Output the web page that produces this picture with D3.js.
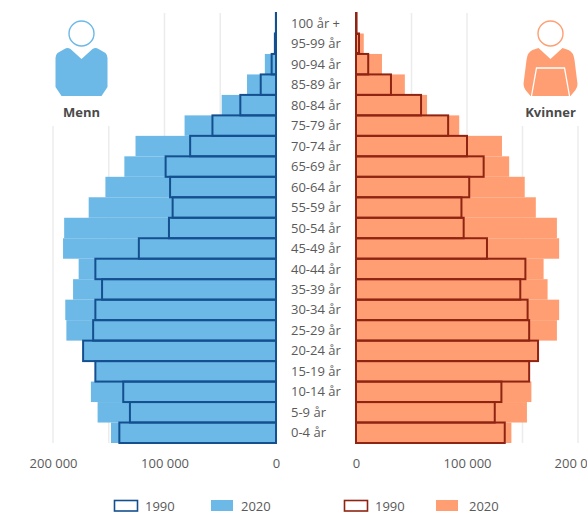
<!DOCTYPE html>
<html>
<head>
<meta charset="utf-8">
<script src="https://cdn.jsdelivr.net/npm/d3@7"></script>
<style>
  html, body { margin: 0; padding: 0; background: #fff; overflow: hidden; }
  svg { display: block; }
  text { font-family: "Open Sans", sans-serif; }
</style>
</head>
<body>
<svg id="chart" width="587" height="516"></svg>
<script>
// Norwegian population by five-year age group, 1990 and 2020 (top row = oldest)
const ageGroups = ["100 år +", "95-99 år", "90-94 år", "85-89 år", "80-84 år", "75-79 år", "70-74 år",
  "65-69 år", "60-64 år", "55-59 år", "50-54 år", "45-49 år", "40-44 år", "35-39 år", "30-34 år",
  "25-29 år", "20-24 år", "15-19 år", "10-14 år", "5-9 år", "0-4 år"];
const men1990 = [100, 1000, 3900, 13700, 32000, 57000, 77000, 99000, 95000, 92700, 96000, 123000,
  162000, 156000, 162000, 164000, 173000, 162000, 137000, 131000, 140500];
const men2020 = [300, 1500, 10000, 26000, 48700, 82000, 126000, 136000, 153000, 168000, 190000, 191000,
  177000, 182000, 189000, 188000, 173000, 162000, 166000, 160000, 148000];
const women1990 = [500, 2700, 11000, 31500, 58600, 83000, 100000, 115000, 102000, 95000, 97000, 118000,
  152600, 148000, 154600, 156000, 164000, 156000, 131000, 125000, 134000];
const women2020 = [500, 7000, 23400, 44000, 64000, 93000, 131500, 138000, 152000, 162000, 181000, 183000,
  169000, 172600, 183000, 181000, 164000, 156000, 158000, 154000, 140000];
const axisTicks = [0, 100000, 200000];
const gridTicks = [50000, 100000, 150000, 200000];
const legendYears = ["1990", "2020"];

const palette = {
  men: { line: "#14508f", fill: "#6cb9e7" },
  women: { line: "#8f2412", fill: "#ff9e72" },
  grid: "#ececec",
  text: "#5a5a5a"
};

const svg = d3.select("#chart");
const y = d3.scaleBand().domain(ageGroups).range([13, 443]).padding(0);
const xMen = d3.scaleLinear().domain([0, 200000]).range([276, 53]);
const xWomen = d3.scaleLinear().domain([0, 200000]).range([356, 578]);
const spaced = d => d3.format(",")(d).replace(/,/g, " ");

function drawSide(x, before, after, colors) {
  const g = svg.append("g");
  g.selectAll("line.grid").data(gridTicks).join("line")
    .attr("class", "grid")
    .attr("x1", d => x(d)).attr("x2", d => x(d))
    .attr("y1", 13).attr("y2", 443)
    .attr("stroke", palette.grid).attr("stroke-width", 1.5);

  const span = (d, zero) => ({ x: Math.min(x(d), zero), w: Math.abs(x(d) - zero) });
  const zero = x(0);

  g.selectAll("rect.now").data(after).join("rect")
    .attr("class", "now")
    .attr("x", d => span(d, zero).x).attr("width", d => span(d, zero).w)
    .attr("y", (d, i) => y(ageGroups[i])).attr("height", y.bandwidth())
    .attr("fill", colors.fill);

  g.selectAll("rect.then").data(before).join("rect")
    .attr("class", "then")
    .attr("x", d => span(d, zero).x).attr("width", d => span(d, zero).w)
    .attr("y", (d, i) => y(ageGroups[i])).attr("height", y.bandwidth())
    .attr("fill", "none")
    .attr("stroke", colors.line).attr("stroke-width", 2);

  const axis = svg.append("g")
    .attr("transform", "translate(0,464)")
    .call(d3.axisBottom(x).tickValues(axisTicks).tickFormat(spaced).tickSize(0).tickPadding(0));
  axis.select(".domain").remove();
  axis.selectAll("text")
    .attr("dy", "0.32em")
    .attr("font-size", 13)
    .attr("fill", palette.text)
    .style("font-family", '"Open Sans", sans-serif');
}

drawSide(xMen, men1990, men2020, palette.men);
drawSide(xWomen, women1990, women2020, palette.women);

// Age labels between the two halves
svg.append("g").selectAll("text").data(ageGroups).join("text")
  .attr("x", 291)
  .attr("y", d => y(d) + y.bandwidth() / 2)
  .attr("dy", "0.35em")
  .attr("font-size", 13)
  .attr("fill", palette.text)
  .text(d => d);

// Person pictograms with a white backing that interrupts the outer grid lines
function drawPerson(cx, label, color, isWoman) {
  const g = svg.append("g").attr("transform", `translate(${cx},0)`);
  g.append("rect").attr("x", -30).attr("y", 11).attr("width", 60).attr("height", 115).attr("fill", "#fff");
  g.append("circle").attr("cx", 0).attr("cy", 33.5).attr("r", 12.5)
    .attr("fill", "#fff").attr("stroke", color).attr("stroke-width", 1.4);
  if (isWoman) {
    g.append("path").attr("fill", color)
      .attr("d", "M-18,50 L-12,48 L0,59 L12,48 L18,50 Q23,52 24,60 L27,84 Q27,87 25,90 L20,96 L-20,96 L-25,90 Q-27,87 -27,84 L-24,60 Q-23,52 -18,50 Z");
    g.append("path").attr("fill", "none").attr("stroke", "#fff").attr("stroke-width", 1.3)
      .attr("d", "M-19,96 L-14,68 L14,68 L19,96");
  } else {
    g.append("path").attr("fill", color)
      .attr("d", "M-17,49 Q-14,47 -11,49 L0,59 L11,49 Q14,47 17,49 L24,53 Q26,55 26,58 L26,87 L20,96 L-20,96 L-26,87 L-26,58 Q-26,55 -24,53 Z");
  }
  g.append("text").attr("x", 0).attr("y", 117).attr("text-anchor", "middle")
    .attr("font-size", 13).attr("font-weight", 700).attr("fill", "#4a4a4a").text(label);
}
drawPerson(81.5, "Menn", palette.men.fill, false);
drawPerson(550.5, "Kvinner", palette.women.fill, true);

// Legends under each half
function drawLegend(xs, colors) {
  const g = svg.append("g");
  g.append("rect").attr("x", xs[0]).attr("y", 500.5).attr("width", 23).attr("height", 10.5)
    .attr("fill", "#fff").attr("stroke", colors.line).attr("stroke-width", 1.6);
  g.append("rect").attr("x", xs[2]).attr("y", 500).attr("width", 22).attr("height", 11).attr("fill", colors.fill);
  [xs[1], xs[3]].forEach((tx, i) => {
    g.append("text").attr("x", tx).attr("y", 506).attr("dy", "0.35em")
      .attr("font-size", 13).attr("fill", palette.text).text(legendYears[i]);
  });
}
drawLegend([114.5, 145, 211, 241], palette.men);
drawLegend([344.5, 375, 436, 469], palette.women);
</script>
</body>
</html>
